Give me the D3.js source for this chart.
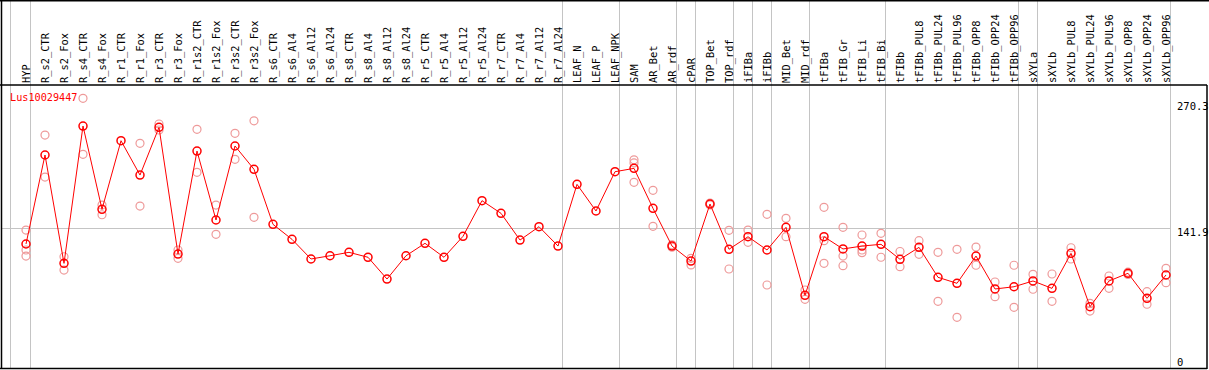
<!DOCTYPE html>
<html>
<head>
<meta charset="utf-8">
<script src="https://cdn.jsdelivr.net/npm/d3@7"></script>
<style>
  body { margin: 0; background: #fff; }
  text { font-family: "DejaVu Sans Mono", monospace; }
</style>
</head>
<body>
<div id="chart"></div>
<script>
// expression profile for one gene, means plus replicate values

let geneName = "Lus10029447";

let categories = [
  "HYP", "R_s2_CTR", "R_s2_Fox", "R_s4_CTR", "R_s4_Fox", "R_r1_CTR", "R_r1_Fox",
  "R_r3_CTR", "R_r3_Fox", "R_r1s2_CTR", "R_r1s2_Fox", "R_r3s2_CTR", "R_r3s2_Fox",
  "R_s6_CTR", "R_s6_Al4", "R_s6_Al12", "R_s6_Al24", "R_s8_CTR", "R_s8_Al4",
  "R_s8_Al12", "R_s8_Al24", "R_r5_CTR", "R_r5_Al4", "R_r5_Al12", "R_r5_Al24",
  "R_r7_CTR", "R_r7_Al4", "R_r7_Al12", "R_r7_Al24", "LEAF_N", "LEAF_P", "LEAF_NPK",
  "SAM", "AR_Bet", "AR_rdf", "cPAR", "TOP_Bet", "TOP_rdf", "iFIBa", "iFIBb",
  "MID_Bet", "MID_rdf", "tFIBa", "tFIB_Gr", "tFIB_Li", "tFIB_Bi", "tFIBb",
  "tFIBb_PUL8", "tFIBb_PUL24", "tFIBb_PUL96", "tFIBb_OPP8", "tFIBb_OPP24",
  "tFIBb_OPP96", "sXYLa", "sXYLb", "sXYLb_PUL8", "sXYLb_PUL24", "sXYLb_PUL96",
  "sXYLb_OPP8", "sXYLb_OPP24", "sXYLb_OPP96"
];

let means = [
  126.4, 214.3, 107.3, 242.9, 160.7, 228.4, 194.5,
  241.6, 116.5, 218.2, 150.1, 223.2, 200.2,
  145.8, 131.0, 111.6, 114.8, 118.2, 113.3,
  91.8, 114.8, 127.1, 113.3, 134.0, 169.2,
  156.7, 130.3, 143.5, 124.4, 185.3, 159.0, 197.8,
  201.1, 161.6, 124.4, 109.6, 165.9, 121.2, 133.6, 120.5,
  142.9, 75.7, 133.6, 121.5, 124.4, 126.1, 111.3,
  123.1, 93.5, 87.6, 114.5, 82.0,
  84.2, 89.9, 82.6, 117.2, 64.5, 89.9,
  97.5, 72.8, 95.8
];

let replicates = [
  [140.2, 120.5, 114.5], [234.0, 192.5], [113.8, 100.7], [270.3, 215.0], [164.9, 155.3], [], [225.8, 163.9],
  [244.9, 239.0], [120.5, 112.3], [239.7, 197.2], [164.9, 136.0], [235.7, 210.0], [248.1, 152.8],
  [], [], [], [], [], [],
  [], [], [], [], [], [],
  [], [], [], [], [], [], [],
  [209.5, 206.5, 187.3], [179.4, 143.9], [125.6, 123.2], [112.3, 105.7], [166.8, 165.0], [139.9, 101.7], [140.2, 128.1], [155.7, 85.9],
  [151.8, 133.6], [81.0, 71.8], [162.6, 129.7, 107.3], [142.9, 114.5, 105.0], [135.3, 120.5, 117.8], [137.0, 113.3], [119.0, 104.0],
  [129.7, 116.2], [118.2, 69.8], [121.2, 54.0], [123.4, 105.4], [88.9, 74.4],
  [105.4, 63.9], [96.5, 81.7], [96.8, 69.8], [122.7, 111.6], [67.8, 60.2], [94.8, 82.6],
  [98.6, 96.4], [79.3, 66.9], [102.4, 88.2]
];

// group boundaries: a grey line is drawn just after each of these
let groupEnds = ["HYP", "R_r7_Al24", "LEAF_NPK", "AR_rdf", "cPAR", "TOP_rdf", "iFIBa",
                 "iFIBb", "MID_rdf", "tFIB_Bi", "tFIBb_OPP96", "sXYLa", "sXYLb_OPP96"];

let yTicks = [270.3, 141.9, 0];

////////////////////////////////////////////////////////////////////////

let width = 1209, height = 370;
let headerBottom = 85;
let plotRight = 1207, plotBottom = 368;

let svg = d3.select("#chart").append("svg")
  .attr("width", width)
  .attr("height", height);

let xScale = d3.scalePoint().domain(categories).range([26, 1166]);
let yScale = d3.scaleLinear().domain([0, 270.3]).range([372, 98.3]);

// vertical separators run the full height
let grid = svg.append("g").attr("stroke", "#c4c4c4").attr("stroke-width", 1);
grid.append("line")
  .attr("x1", 10.5).attr("x2", 10.5)
  .attr("y1", 0).attr("y2", plotBottom);
grid.selectAll("line.sep")
  .data(groupEnds)
  .enter().append("line")
  .attr("class", "sep")
  .attr("x1", d => Math.round(xScale(d) + 4) + 0.5)
  .attr("x2", d => Math.round(xScale(d) + 4) + 0.5)
  .attr("y1", 0).attr("y2", plotBottom);

// horizontal grid line at the middle tick
grid.selectAll("line.h")
  .data(yTicks.filter(v => v > 0 && v < 270.3))
  .enter().append("line")
  .attr("class", "h")
  .attr("x1", 1).attr("x2", 1171)
  .attr("y1", d => Math.round(yScale(d)) + 0.5)
  .attr("y2", d => Math.round(yScale(d)) + 0.5);

// rotated category labels in the header
svg.append("g").selectAll("text")
  .data(categories)
  .enter().append("text")
  .attr("transform", d => "translate(" + xScale(d) + "," + 83 + ") rotate(-90)")
  .attr("dy", "0.35em")
  .attr("font-size", "10.4px")
  .attr("fill", "#000")
  .text(d => d);

// right hand value labels
svg.append("g").selectAll("text")
  .data(yTicks)
  .enter().append("text")
  .attr("x", 1177)
  .attr("y", d => d == 0 ? 366 : (d == 270.3 ? yScale(d) + 12 : yScale(d) + 8))
  .attr("font-size", "10.5px")
  .attr("fill", "#000")
  .text(d => d);

// gene name
svg.append("text")
  .attr("x", 10)
  .attr("y", 101)
  .attr("font-size", "10.2px")
  .attr("fill", "#ff0000")
  .text(geneName);

// replicate circles
let repPoints = [];
categories.forEach(function(c, i) {
  replicates[i].forEach(function(v) { repPoints.push({cat: c, value: v}); });
});
svg.append("g").selectAll("circle")
  .data(repPoints)
  .enter().append("circle")
  .attr("cx", d => xScale(d.cat))
  .attr("cy", d => yScale(d.value))
  .attr("r", 4)
  .attr("fill", "none")
  .attr("stroke", "#ee9a9a")
  .attr("stroke-width", 1.2);

// mean line
let meanData = categories.map((c, i) => ({cat: c, value: means[i]}));
svg.append("path")
  .datum(meanData)
  .attr("d", d3.line().x(d => xScale(d.cat)).y(d => yScale(d.value)))
  .attr("fill", "none")
  .attr("stroke", "#ff0000")
  .attr("stroke-width", 1);

svg.append("g").selectAll("circle")
  .data(meanData)
  .enter().append("circle")
  .attr("cx", d => xScale(d.cat))
  .attr("cy", d => yScale(d.value))
  .attr("r", 4)
  .attr("fill", "none")
  .attr("stroke", "#ff0000")
  .attr("stroke-width", 1.5);

// frame
let frame = svg.append("g").attr("stroke", "#000").attr("stroke-width", 1.5).attr("fill", "none");
frame.append("line").attr("x1", 0).attr("x2", width).attr("y1", 0.75).attr("y2", 0.75);
frame.append("line").attr("x1", 0).attr("x2", plotRight).attr("y1", headerBottom).attr("y2", headerBottom);
frame.append("line").attr("x1", 1.5).attr("x2", 1.5).attr("y1", 0).attr("y2", plotBottom + 1);
frame.append("line").attr("x1", plotRight).attr("x2", plotRight).attr("y1", headerBottom).attr("y2", plotBottom + 1);
frame.append("line").attr("x1", 0).attr("x2", plotRight).attr("y1", plotBottom + 0.5).attr("y2", plotBottom + 0.5);
</script>
</body>
</html>
